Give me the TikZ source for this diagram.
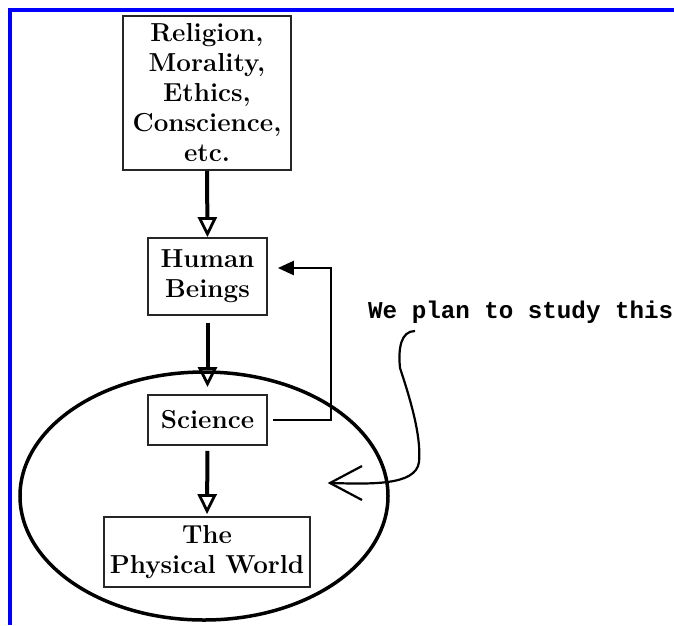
\documentclass[tikz,border=0pt]{standalone}
\usepackage{fontspec}
\newfontfamily\monofont{Liberation Mono}
\usetikzlibrary{arrows.meta,shapes.geometric}
\begin{document}
\begin{tikzpicture}[x=1pt,y=-1pt,
  box/.style={draw=black!85,line width=1.8pt,align=center,inner sep=0pt,
    font=\fontsize{26}{30}\selectfont\bfseries},
  flow/.style={line width=4pt,-{Triangle[open,length=20pt,width=19pt,line width=2.8pt]}},
  back/.style={line width=2.6pt,-{Triangle[length=16pt,width=14pt]}},
  frame/.style={draw=blue,line width=4pt}]
\useasboundingbox (0,0) rectangle (674,625);
\draw[frame] (10,625) -- (10,10) -- (674,10);
\node[box,minimum width=168pt,minimum height=154pt] (rel) at (207,93)
  {Religion,\\Morality,\\Ethics,\\Conscience,\\etc.};
\node[box,minimum width=119pt,minimum height=77pt] (hum) at (207.5,276.5)
  {Human\\Beings};
\node[box,minimum width=119pt,minimum height=50pt] (sci) at (207.5,420)
  {Science};
\node[box,minimum width=206pt,minimum height=70pt] (phy) at (207,552)
  {The\\Physical World};
\draw[line width=3.5pt] (204,496) ellipse [x radius=184, y radius=124];
\draw[flow] (rel.south) -- (hum.north);
\draw[flow,shorten <=7pt,shorten >=7pt] (hum.south) -- (sci.north);
\draw[flow,shorten <=5pt,shorten >=2pt] (sci.south) -- (phy.north);
\draw[back,shorten <=5pt,shorten >=10pt] (sci.east) -| (331,268) -- (hum.east |- 0,268);
\node[anchor=base west,inner sep=0pt,font=\monofont\fontsize{24.2}{29}\selectfont\bfseries] (note) at (368,318) {We plan to study this};
\coordinate (hook) at (415,331);
\coordinate (tip) at (330,483);
\draw[line width=2.2pt,line join=round] (hook) .. controls (401,331) and (398,348) .. (400,368)
  .. controls (414,410) and (421,440) .. (419,462)
  .. controls (416,486) and (370,484) .. (tip);
\draw[line width=2.2pt,line join=miter] (362,466) -- (tip) -- (362,500);
\end{tikzpicture}
\end{document}
